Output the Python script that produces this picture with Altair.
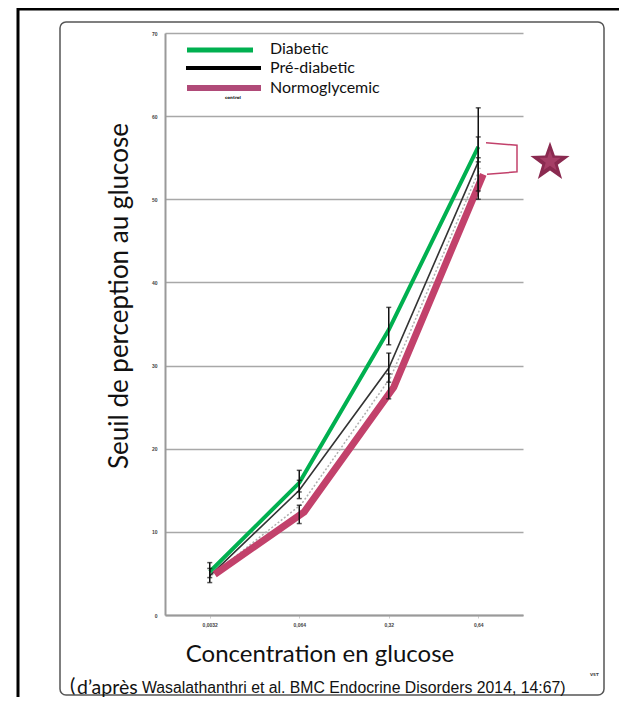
import math
import altair as alt
import pandas as pd

# ---------------- data ----------------
conc = ["0,0032", "0,064", "0,32", "0,64"]
series = ["Diabetic", "Pré-diabetic", "Normoglycemic"]
diabetic = [5.2, 15.9, 34.3, 56.3]
prediabetic = [4.7, 15.0, 29.7, 54.5]
normo = [4.9, 12.4, 27.4, 53.0]
control_dotted = [4.8, 13.3, 28.6, 53.8]

diab_lo = [4.5, 14.8, 32.5, 54.5]
diab_hi = [6.3, 17.4, 37.0, 61.0]
pre_lo = [3.9, 14.0, 28.0, 51.0]
pre_hi = [5.6, 16.2, 31.5, 57.5]
normo_lo = [None, 11.0, 26.0, 50.0]
normo_hi = [None, 13.2, 29.0, 55.0]

y_ticks = [0, 10, 20, 30, 40, 50, 60, 70]
colors = ["#00B050", "#222222", "#C2416B"]

# ---------------- tables ----------------
rows = []
for s, vals in zip(series, [diabetic, prediabetic, normo]):
    for c, v in zip(conc, vals):
        rows.append({"series": s, "conc": c, "value": v})
df = pd.DataFrame(rows)

err_rows = []
for s, lo, hi in zip(series, [diab_lo, pre_lo, normo_lo], [diab_hi, pre_hi, normo_hi]):
    for c, a, b in zip(conc, lo, hi):
        if a is not None:
            err_rows.append({"series": s, "conc": c, "lo": a, "hi": b})
err = pd.DataFrame(err_rows)

dot_df = pd.DataFrame({"conc": conc, "value": control_dotted})

W, H = 358, 582

xenc = alt.X("conc:O", sort=conc,
             scale=alt.Scale(type="point", padding=0.5),
             axis=alt.Axis(title=None, labelAngle=0, labelFontSize=5, labelFontWeight="bold",
                           labelColor="#444", labelPadding=4, domainColor="#9a9a9a",
                           domainWidth=2, tickColor="#cccccc", tickSize=3, grid=False))
yscale = alt.Scale(domain=[0, 70], nice=False)
yaxis = alt.Axis(title=None, values=y_ticks, labelFontSize=5, labelFontWeight="bold",
                 labelColor="#444", labelPadding=8, ticks=False, domainColor="#9a9a9a",
                 domainWidth=2, gridColor="#a8a8a8", gridWidth=1.5)

base = alt.Chart(df)

axes_layer = base.mark_point(opacity=0).encode(
    x=xenc, y=alt.Y("value:Q", scale=yscale, axis=yaxis))

dotted = alt.Chart(dot_df).mark_line(color="#b0b0b0", strokeWidth=1.5, strokeDash=[2, 2],
                                     xOffset=2).encode(
    x=alt.X("conc:O", sort=conc), y=alt.Y("value:Q", scale=yscale))

line_pre = base.transform_filter(alt.datum.series == "Pré-diabetic").mark_line(
    strokeWidth=1.6, color="#333333").encode(
    x=alt.X("conc:O", sort=conc), y=alt.Y("value:Q", scale=yscale))

line_diab = base.transform_filter(alt.datum.series == "Diabetic").mark_line(
    strokeWidth=4, color=colors[0]).encode(
    x=alt.X("conc:O", sort=conc), y=alt.Y("value:Q", scale=yscale))

line_norm = base.transform_filter(alt.datum.series == "Normoglycemic").mark_line(
    strokeWidth=7, color=colors[2], xOffset=5).encode(
    x=alt.X("conc:O", sort=conc), y=alt.Y("value:Q", scale=yscale))

err_rule = alt.Chart(err).mark_rule(color="#111111", strokeWidth=1.5).encode(
    x=alt.X("conc:O", sort=conc), y=alt.Y("lo:Q", scale=yscale), y2="hi:Q")
cap_lo = alt.Chart(err).mark_tick(color="#111111", size=5, thickness=1.5).encode(
    x=alt.X("conc:O", sort=conc), y=alt.Y("lo:Q", scale=yscale))
cap_hi = alt.Chart(err).mark_tick(color="#111111", size=5, thickness=1.5).encode(
    x=alt.X("conc:O", sort=conc), y=alt.Y("hi:Q", scale=yscale))

# bracket & star annotation (significance)
br = pd.DataFrame({"px": [321, 352, 352, 322], "v": [56.8, 56.5, 53.3, 53.0], "o": [0, 1, 2, 3]})
bracket = alt.Chart(br).mark_line(color="#C2416B", strokeWidth=1.5).encode(
    x=alt.X("px:Q", scale=None), y=alt.Y("v:Q", scale=yscale), order="o:O")


def star_path():
    pts = []
    for i in range(10):
        r = 1.0 if i % 2 == 0 else 0.40
        a = -math.pi / 2 + i * math.pi / 5
        pts.append((r * math.cos(a), r * math.sin(a) + 0.1))
    return "M" + " L".join(f"{x:.3f},{y:.3f}" for x, y in pts) + " Z"


sp = star_path()
star_df = pd.DataFrame({"px": [385], "v": [54.7]})
star = alt.Chart(star_df).mark_point(shape=sp, filled=True, color="#8A2A50", size=1700,
                                     opacity=1).encode(
    x=alt.X("px:Q", scale=None), y=alt.Y("v:Q", scale=yscale))
star_in = alt.Chart(star_df).mark_point(shape=sp, filled=True, color="#A63E66", size=500,
                                        opacity=1).encode(
    x=alt.X("px:Q", scale=None), y=alt.Y("v:Q", scale=yscale))

one = pd.DataFrame({"a": [0]})


def txt(t, x, y, size, font="Lato", align="left", angle=0, color="#111111", weight="normal"):
    return alt.Chart(one).mark_text(text=t, font=font, fontSize=size, align=align,
                                    baseline="middle", angle=angle, color=color,
                                    fontWeight=weight).encode(
        x=alt.value(x), y=alt.value(y))


def hline(x1, x2, y, color, w):
    return alt.Chart(one).mark_rule(color=color, strokeWidth=w).encode(
        x=alt.value(x1), x2=alt.value(x2), y=alt.value(y))


def vline(x, y1, y2, color, w):
    return alt.Chart(one).mark_rule(color=color, strokeWidth=w).encode(
        x=alt.value(x), y=alt.value(y1), y2=alt.value(y2))


# legend
legend = [
    hline(22, 88, 17, colors[0], 5),
    hline(21, 96, 35, "#000000", 4),
    hline(22, 96, 55, "#B04A78", 6),
    txt(series[0], 105, 16, 16),
    txt(series[1], 105, 35, 16),
    txt(series[2], 105, 55, 16),
    txt("control", 60, 65, 4, font="DejaVu Sans", weight="bold"),
]

titles = [
    txt("Seuil de perception au glucose", -45, 263, 26, align="center", angle=270),
    txt("Concentration en glucose", 155, 622, 24, align="center"),
    txt("(", -95, 653, 20, font="Lato"),
    txt("d’après", -88, 655, 19.5, font="Lato"),
    txt("Wasalathanthri et al. BMC Endocrine Disorders 2014, 14:67)", -23, 655, 15.8,
        font="Liberation Sans"),
    txt("VST", 425, 642, 4, font="DejaVu Sans", weight="bold", color="#444"),
]

frames = [
    hline(-148, 480, -24, "#000000", 3),
    vline(-147, -25, 720, "#000000", 3),
    alt.Chart(one).mark_rect(fill=None, stroke="#555555", strokeWidth=1.5, cornerRadius=6).encode(
        x=alt.value(-105), x2=alt.value(439), y=alt.value(-11), y2=alt.value(662)),
]

chart = alt.layer(
    *frames, axes_layer, dotted, line_pre, line_diab, line_norm,
    err_rule, cap_lo, cap_hi, bracket, star, star_in, *legend, *titles
).properties(
    width=W, height=H,
    autosize=alt.AutoSizeParams(type="none"),
    padding={"left": 157, "top": 25, "right": 96, "bottom": 82},
    background="white",
).configure_view(stroke=None)

chart.save("out.html", embed_options={"renderer": "svg", "actions": False})
